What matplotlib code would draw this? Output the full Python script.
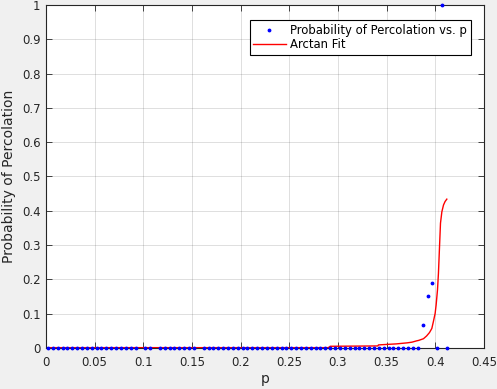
import numpy as np
import matplotlib
matplotlib.use("Agg")
import matplotlib.pyplot as plt

# data
p_vals = [0.002, 0.007, 0.012, 0.017, 0.022, 0.027, 0.032, 0.037, 0.042, 0.047,
          0.052, 0.057, 0.062, 0.067, 0.072, 0.077, 0.082, 0.087, 0.092, 0.097,
          0.102, 0.107, 0.112, 0.117, 0.122, 0.127, 0.132, 0.137, 0.142, 0.147,
          0.152, 0.157, 0.162, 0.167, 0.172, 0.177, 0.182, 0.187, 0.192, 0.197,
          0.202, 0.207, 0.212, 0.217, 0.222, 0.227, 0.232, 0.237, 0.242, 0.247,
          0.252, 0.257, 0.262, 0.267, 0.272, 0.277, 0.282, 0.287, 0.292, 0.297,
          0.302, 0.307, 0.312, 0.317, 0.322, 0.327, 0.332, 0.337, 0.342, 0.347,
          0.352, 0.357, 0.362, 0.367, 0.372, 0.377, 0.382, 0.387, 0.392, 0.397,
          0.402, 0.407, 0.412]
nan = float("nan")
prob_vals = [0.0] * 19 + [nan, 0.0, 0.0, nan] + [0.0] * 8 + [nan] + [0.0] * 45 \
    + [0.068, 0.152, 0.189, 0.0, 1.0, 0.0]

fit_p = [0.0, 0.29, 0.292, 0.341, 0.3415, 0.36, 0.371, 0.376, 0.381, 0.3827,
         0.3878, 0.391, 0.394, 0.3964, 0.398, 0.3998, 0.4008, 0.4022, 0.4032,
         0.4043, 0.4053, 0.4067, 0.4084, 0.410, 0.4118]
fit_vals = [0.001, 0.001, 0.005, 0.006, 0.009, 0.012, 0.015, 0.017, 0.021, 0.022,
            0.027, 0.035, 0.045, 0.057, 0.077, 0.101, 0.125, 0.169, 0.218,
            0.295, 0.364, 0.397, 0.417, 0.427, 0.434]

x_ticks = [0, 0.05, 0.1, 0.15, 0.2, 0.25, 0.3, 0.35, 0.4, 0.45]
x_labels = ["0", "0.05", "0.1", "0.15", "0.2", "0.25", "0.3", "0.35", "0.4", "0.45"]
y_ticks = [0, 0.1, 0.2, 0.3, 0.4, 0.5, 0.6, 0.7, 0.8, 0.9, 1]
y_labels = ["0", "0.1", "0.2", "0.3", "0.4", "0.5", "0.6", "0.7", "0.8", "0.9", "1"]

plt.rcParams['font.family'] = ['DejaVu Sans']
txt = '#262626'

fig = plt.figure(figsize=(4.97, 3.89), dpi=100, facecolor='#f0f0f0')
ax = fig.add_axes([46 / 497, 41 / 389, 438 / 497, 343 / 389])
ax.set_facecolor('white')

ax.plot(p_vals, prob_vals, '.', color='blue', markersize=3.5,
        label='Probability of Percolation vs. p', clip_on=False, zorder=3)
ax.plot(fit_p, fit_vals, '-', color='red', linewidth=1, label='Arctan Fit', zorder=2)

ax.set_xlim(0, 0.45)
ax.set_ylim(0, 1)
ax.set_xticks(x_ticks)
ax.set_xticklabels(x_labels)
ax.set_yticks(y_ticks)
ax.set_yticklabels(y_labels)
ax.tick_params(direction='in', length=4, width=0.6, colors=txt, labelsize=8.5,
               top=True, right=True, pad=4)
ax.tick_params(axis='x', pad=6)
for s in ax.spines.values():
    s.set_color(txt)
    s.set_linewidth(0.8)
ax.grid(True, color='#262626', alpha=0.15, linewidth=0.7)
ax.set_axisbelow(True)

ax.set_xlabel('p', fontsize=10, color=txt, labelpad=2)
ax.set_ylabel('Probability of Percolation', fontsize=10, color=txt, labelpad=4)

leg = ax.legend(loc='upper right', bbox_to_anchor=(0.97, 0.955), fontsize=8.4,
                fancybox=False, framealpha=1, edgecolor='black',
                borderpad=0.3, handlelength=2.8, handletextpad=0.4,
                labelspacing=0.1, borderaxespad=0, markerscale=1.0)
leg.get_frame().set_linewidth(0.8)

fig.savefig('out.png', dpi=100, facecolor=fig.get_facecolor())
